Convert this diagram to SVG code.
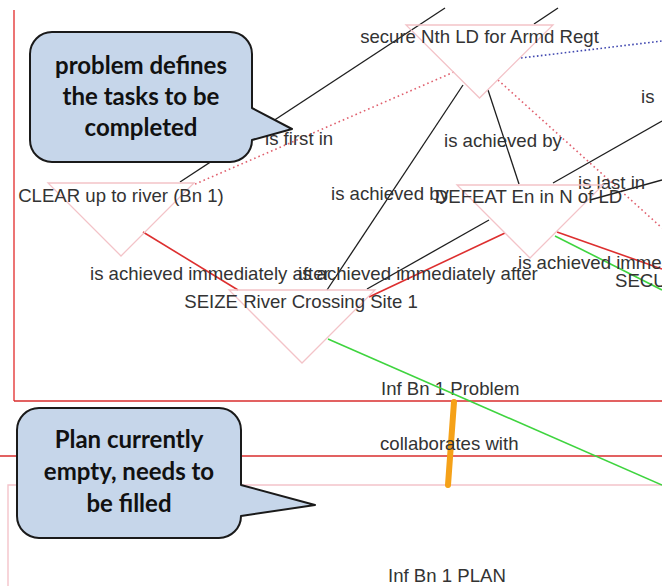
<svg xmlns="http://www.w3.org/2000/svg" width="662" height="586" viewBox="0 0 662 586">
<style>
.tri{fill:none;stroke:#f3c3c8;stroke-width:1.3}
.lbl{font-family:"Liberation Sans",Arial,sans-serif;font-size:18.6px;fill:#333}
.mid{text-anchor:middle}
.blk{stroke:#1e1e1e;stroke-width:1.3;fill:none}
.red{stroke:#dd2f2f;stroke-width:1.6;fill:none}
.rdot{stroke:#e0606e;stroke-width:1.6;stroke-dasharray:1.6 3;fill:none}
.bdot{stroke:#4048b0;stroke-width:1.6;stroke-dasharray:1.6 2.4;fill:none}
.grn{stroke:#3fd43f;stroke-width:1.6;fill:none}
.call{fill:#c6d6ea;stroke:#1a1a1a;stroke-width:2;stroke-linejoin:round}
.ct{font-family:Lato,"Open Sans",sans-serif;font-weight:bold;font-size:24px;fill:#111;text-anchor:middle}
</style>
<rect width="662" height="586" fill="#ffffff"/>

<g id="problem-container">
  <line x1="14" y1="10" x2="14" y2="401" stroke="#ec7474" stroke-width="2"/>
  <line x1="14" y1="401" x2="662" y2="401" stroke="#d92c2c" stroke-width="1.6"/>
  <text class="lbl" x="381" y="395">Inf Bn 1 Problem</text>
</g>

<g id="plan-container">
  <line x1="0" y1="456" x2="662" y2="456" stroke="#d92c2c" stroke-width="1.6"/>
  <path d="M8,586 V485 H662" fill="none" stroke="#f4c4ca" stroke-width="1.4"/>
  <text class="lbl" x="388" y="582">Inf Bn 1 PLAN</text>
</g>

<g id="connectors">
  <line class="blk" x1="180" y1="182" x2="445" y2="8"/>
  <line class="blk" x1="534" y1="24" x2="558" y2="8"/>
  <line class="rdot" x1="454" y1="72" x2="193" y2="185"/>
  <line class="bdot" x1="521" y1="58" x2="662" y2="41"/>
  <line class="rdot" x1="498" y1="80" x2="662" y2="228"/>
  <line class="blk" x1="488" y1="90" x2="519" y2="184"/>
  <line class="blk" x1="463" y1="85" x2="327" y2="290"/>
  <line class="blk" x1="553" y1="183" x2="662" y2="121"/>
  <line class="blk" x1="590" y1="200" x2="662" y2="180"/>
  <line class="red" x1="143" y1="232" x2="238" y2="290"/>
  <line class="blk" x1="489" y1="220" x2="367" y2="289"/>
  <line class="red" x1="505" y1="233" x2="369" y2="297"/>
  <line class="red" x1="557" y1="232" x2="662" y2="269"/>
  <line class="grn" x1="555" y1="236" x2="662" y2="290"/>
  <line class="grn" x1="328" y1="339" x2="662" y2="485"/>
  <line x1="454" y1="402" x2="448" y2="485" stroke="#f5a118" stroke-width="6" stroke-linecap="round"/>
  <text class="lbl" x="265" y="145">is first in</text>
  <text class="lbl" x="444" y="147">is achieved by</text>
  <text class="lbl" x="331" y="200">is achieved by</text>
  <text class="lbl" x="578" y="189">is last in</text>
  <text class="lbl" x="641" y="103">is</text>
  <text class="lbl" x="90" y="280">is achieved immediately after</text>
  <text class="lbl" x="298" y="280">is achieved immediately after</text>
  <text class="lbl" x="518" y="269">is achieved immediately after</text>
  <text class="lbl" x="380" y="450">collaborates with</text>
</g>

<g id="node-secure">
  <path class="tri" d="M406,25 H553 L479.5,98 Z"/>
  <text class="lbl mid" x="479.5" y="43">secure Nth LD for Armd Regt</text>
</g>
<g id="node-clear">
  <path class="tri" d="M48,183 H194 L121,256 Z"/>
  <text class="lbl mid" x="121" y="202">CLEAR up to river (Bn 1)</text>
</g>
<g id="node-defeat">
  <path class="tri" d="M457,185 H603 L530,258 Z"/>
  <text class="lbl mid" x="528.5" y="203">DEFEAT En in N of LD</text>
</g>
<g id="node-seize">
  <path class="tri" d="M229,290 H375 L302,363 Z"/>
  <text class="lbl mid" x="301" y="308">SEIZE River Crossing Site 1</text>
</g>
<g id="node-secu">
  <text class="lbl" x="615" y="287">SECU</text>
</g>

<g id="callout-problem">
  <path class="call" d="M52,32 H230 A22,22 0 0 1 252,54 V108 L292,129 L252,140 A22,22 0 0 1 230,162 H52 A22,22 0 0 1 30,140 V54 A22,22 0 0 1 52,32 Z"/>
  <text class="ct" x="141" y="74">problem defines</text>
  <text class="ct" x="141" y="105">the tasks to be</text>
  <text class="ct" x="141" y="136">completed</text>
</g>
<g id="callout-plan">
  <path class="call" d="M39,408 H219 A22,22 0 0 1 241,430 V485 L315,505 L241,516 A22,22 0 0 1 219,538 H39 A22,22 0 0 1 17,516 V430 A22,22 0 0 1 39,408 Z"/>
  <text class="ct" x="129" y="448">Plan currently</text>
  <text class="ct" x="129" y="480">empty, needs to</text>
  <text class="ct" x="129" y="512">be filled</text>
</g>
</svg>
